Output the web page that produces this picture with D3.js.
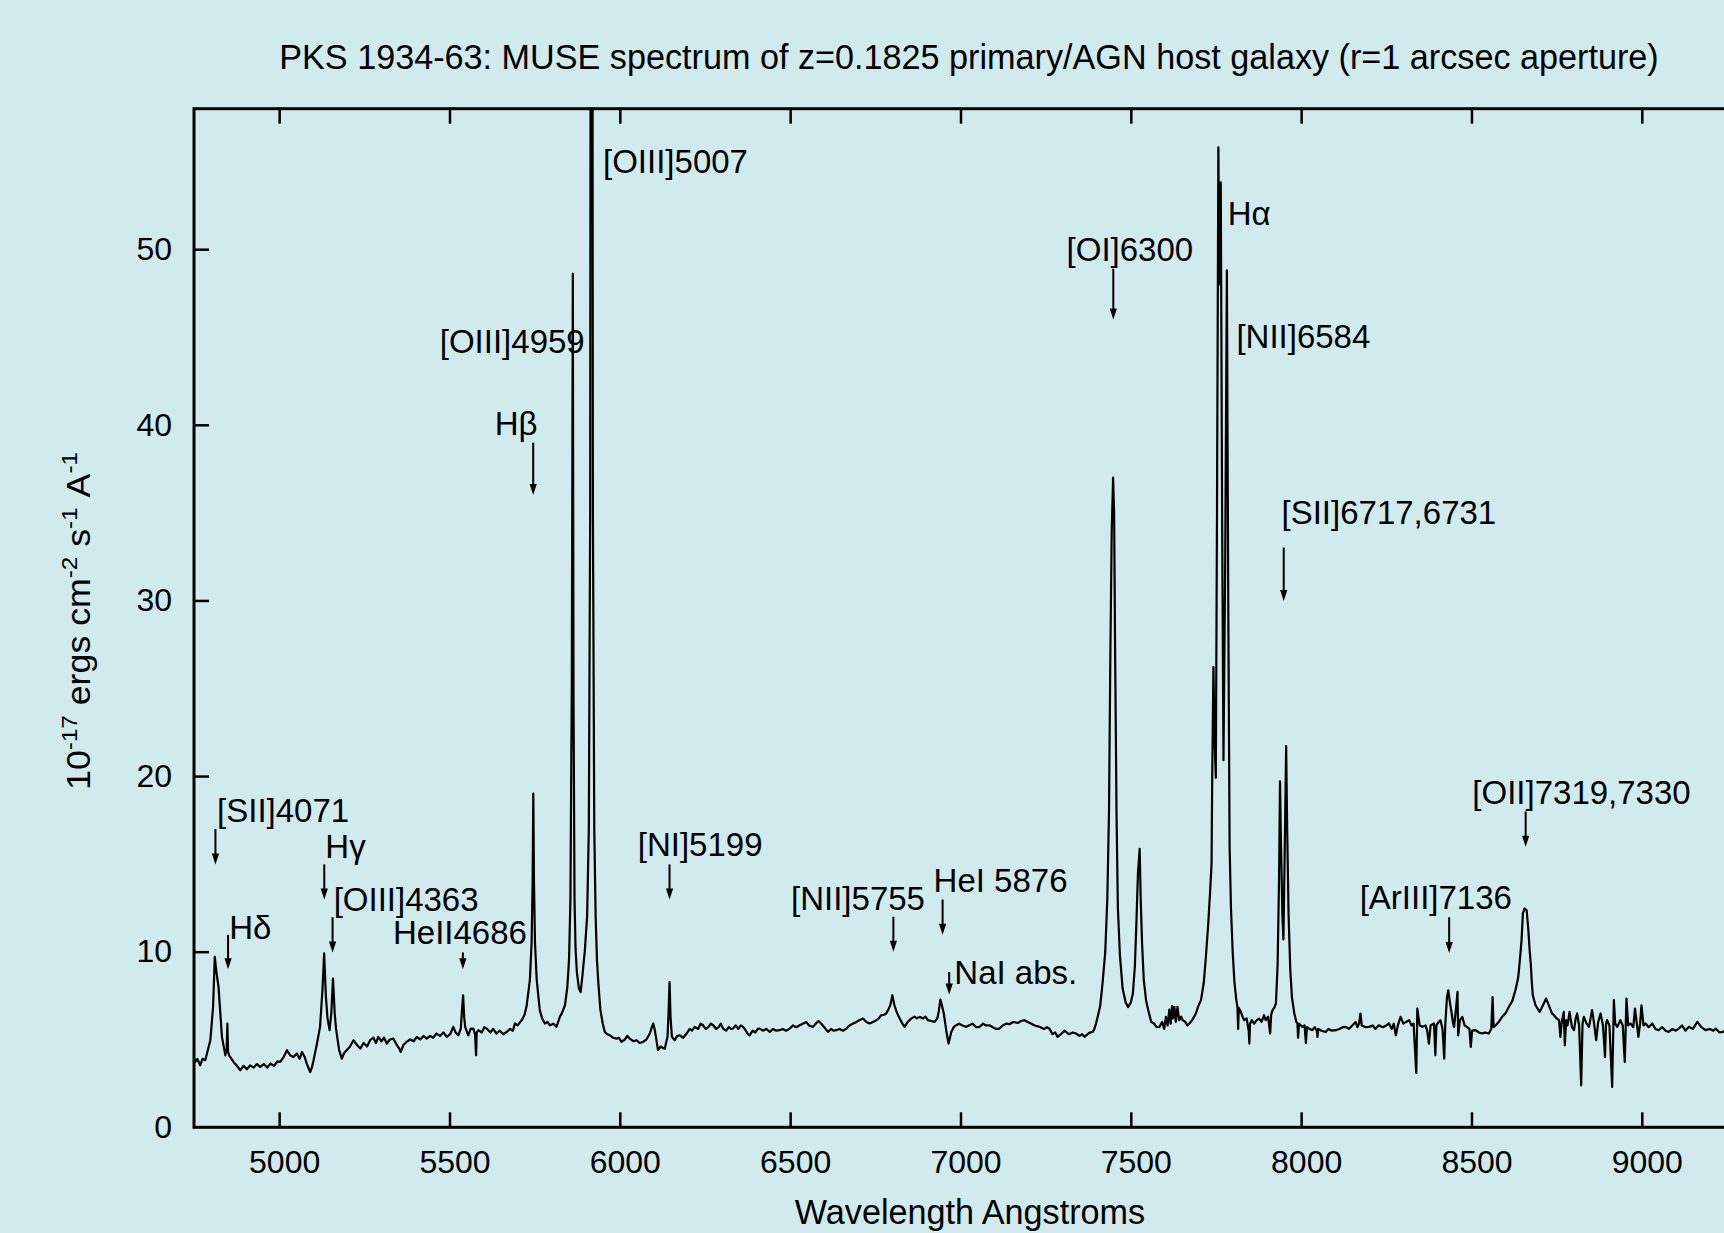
<!DOCTYPE html>
<html>
<head>
<meta charset="utf-8">
<script src="https://cdn.jsdelivr.net/npm/d3@7"></script>
<style>
  html, body { margin: 0; padding: 0; background: #d1eaee; overflow: hidden; }
  svg { display: block; }
  text { font-family: "Liberation Sans", Arial, Helvetica, sans-serif; fill: #000; }
</style>
</head>
<body>
<div id="chart"></div>
<script>
// ======= DATA =======

const wavelength = [
  4750,4754,4760,4768,4775,4783,4798,4806,4811,4816,
  4822,4832,4842,4846,4848,4850,4853,4866,4876,4886,
  4895,4905,4915,4925,4935,4944,4955,4965,4974,4985,
  4995,5003,5013,5023,5032,5042,5052,5060,5067,5075,
  5081,5091,5096,5101,5111,5120,5127,5132,5137,5142,
  5148,5153,5158,5163,5167,5176,5184,5190,5198,5208,
  5218,5228,5238,5248,5258,5267,5277,5284,5291,5300,
  5308,5316,5325,5335,5345,5352,5357,5365,5374,5385,
  5395,5404,5414,5424,5433,5443,5452,5462,5472,5482,
  5492,5502,5511,5518,5526,5533,5536,5540,5543,5546,
  5555,5562,5570,5575,5578,5580,5585,5595,5602,5609,
  5620,5628,5638,5648,5658,5668,5678,5686,5692,5700,
  5712,5720,5726,5736,5741,5744,5746,5748,5751,5756,
  5765,5772,5780,5788,5795,5805,5814,5824,5830,5839,
  5846,5851,5855,5859,5862,5864,5867,5870,5874,5880,
  5885,5890,5897,5904,5909,5913,5917,5921,5925,5929,
  5933,5937,5943,5950,5956,5963,5971,5980,5990,5997,
  6005,6015,6022,6029,6040,6049,6058,6068,6078,6088,
  6094,6098,6102,6106,6112,6120,6128,6132,6138,6140,
  6143,6146,6149,6153,6161,6168,6176,6186,6196,6205,
  6212,6220,6230,6237,6244,6252,6260,6267,6274,6283,
  6290,6296,6303,6312,6320,6326,6332,6340,6348,6355,
  6362,6370,6376,6381,6390,6398,6405,6411,6420,6430,
  6440,6450,6459,6469,6478,6488,6499,6508,6518,6528,
  6537,6547,6555,6567,6575,6583,6591,6600,6611,6620,
  6627,6635,6645,6655,6665,6674,6684,6694,6703,6714,
  6724,6733,6743,6753,6760,6767,6775,6782,6788,6794,
  6800,6806,6812,6819,6828,6836,6845,6855,6865,6872,
  6880,6890,6897,6904,6914,6924,6932,6936,6941,6946,
  6951,6958,6965,6969,6973,6980,6987,6996,7006,7017,
  7026,7036,7046,7056,7066,7075,7085,7095,7105,7114,
  7124,7134,7144,7155,7168,7178,7188,7197,7207,7218,
  7232,7245,7254,7261,7270,7278,7285,7295,7305,7310,
  7318,7330,7339,7350,7357,7364,7373,7380,7388,7393,
  7398,7404,7410,7417,7425,7431,7436,7440,7444,7448,
  7451,7454,7458,7462,7468,7476,7485,7492,7500,7506,
  7512,7517,7521,7526,7529,7533,7538,7545,7552,7560,
  7568,7576,7584,7592,7598,7603,7608,7613,7617,7621,
  7624,7628,7632,7637,7642,7648,7652,7660,7666,7672,
  7680,7686,7691,7698,7706,7714,7720,7727,7733,7737,
  7739,7742.5,7746,7749.5,7753,7757,7760,7764,7768,7772,
  7777,7782,7786,7790,7794,7799,7804,7810,7813,7815,
  7817,7823,7828,7833,7840,7846,7848,7850,7855,7862,
  7870,7877,7884,7891,7896,7903,7909,7912,7916,7921,
  7926,7931,7935,7938,7941,7945,7948,7952,7956,7959,
  7963,7968,7973,7980,7986,7989,7991,7994,8004,8010,
  8014,8017,8025,8033,8040,8046,8048,8050,8060,8072,
  8080,8090,8102,8112,8122,8131,8140,8150,8160,8165,
  8170,8174,8178,8190,8199,8210,8218,8228,8240,8250,
  8258,8266,8272,8278,8284,8292,8300,8308,8317,8324,
  8330,8338,8341,8348,8356,8365,8370,8375,8380,8390,
  8394,8397,8404,8409,8415,8420,8423,8428,8432,8436,
  8442,8446,8449,8455,8459,8461,8466,8473,8480,8487,
  8494,8498,8502,8512,8522,8531,8540,8551,8558,8562,
  8565,8571,8580,8590,8600,8610,8620,8629,8637,8642,
  8647,8651,8656,8662,8667,8671,8674,8677,8680,8688,
  8700,8710,8719,8729,8736,8742,8750,8757,8761,8765,
  8771,8774,8778,8782,8788,8795,8801,8806,8810,8816,
  8822,8826,8830,8838,8845,8854,8860,8866,8872,8879,
  8886,8892,8895,8898,8905,8913,8918,8922,8928,8937,
  8944,8950,8955,8960,8967,8975,8980,8986,8990,8995,
  8999,9005,9011,9020,9031,9040,9050,9060,9070,9079,
  9090,9100,9109,9118,9128,9138,9150,9163,9175,9187,
  9200,9210,9217,9228,9238,9250,9262,9275,9288,9300
];

const flux = [
  3.9,3.72,3.9,3.53,3.9,3.82,4.96,6.86,9.7,8.8,
  8.0,5.15,4.1,4.5,5.9,4.3,4.1,3.72,3.5,3.25,
  3.5,3.3,3.53,3.4,3.6,3.44,3.6,3.4,3.63,3.5,
  3.75,3.72,4.0,4.39,4.1,4.0,4.2,3.9,4.29,4.0,
  3.63,3.15,3.4,3.82,4.77,5.72,7.8,9.9,7.5,6.2,
  5.53,6.48,8.47,6.5,5.6,4.39,3.91,4.2,4.39,4.6,
  4.96,4.7,4.48,4.8,4.6,4.96,5.1,4.8,5.15,4.9,
  5.1,4.77,5.0,5.05,4.7,4.5,4.29,4.7,4.86,5.0,
  4.9,5.15,5.0,5.2,5.05,5.2,5.1,5.34,5.2,5.4,
  5.15,5.3,5.72,5.4,5.24,5.6,6.48,7.52,6.3,5.72,
  5.24,5.6,5.62,5.3,4.1,5.4,5.53,5.4,5.7,5.62,
  5.4,5.6,5.34,5.5,5.3,5.43,5.6,5.5,5.91,5.8,
  6.1,6.4,6.86,8.4,10.5,14,19.0,14,10.5,8.4,
  6.67,6.2,5.91,6.0,5.81,5.9,5.72,6.29,6.5,6.95,
  8.0,9.6,13,25,48.6,25,13,10.2,8.8,7.9,
  7.7,8.6,10,12,17,35,130,35,17,12,
  9.5,8.2,6.67,5.9,5.43,5.3,5.24,5.1,5.05,5.1,
  4.86,5.0,5.2,5.05,4.9,4.96,4.8,4.86,5.0,5.34,
  5.7,5.91,5.6,5.15,4.39,4.6,4.5,4.48,5.0,5.15,
  6.5,8.27,6.2,5.15,4.96,5.2,5.24,5.1,5.34,5.6,
  5.5,5.72,5.6,5.9,5.81,5.6,5.7,5.9,5.81,5.6,
  5.7,5.9,5.62,5.5,5.7,5.6,5.62,5.8,5.6,5.8,
  5.72,5.5,5.3,5.24,5.5,5.4,5.6,5.62,5.5,5.6,
  5.43,5.6,5.5,5.53,5.6,5.5,5.62,5.8,5.7,5.81,
  5.9,6.0,5.8,5.72,5.9,6.05,5.91,5.7,5.43,5.6,
  5.5,5.53,5.6,5.5,5.62,5.8,5.9,6.0,6.1,6.19,
  6.0,5.91,6.0,6.1,6.2,6.38,6.4,6.48,6.7,6.95,
  7.52,6.95,6.6,6.29,5.95,5.72,6.0,6.19,6.3,6.2,
  6.29,6.2,6.3,6.1,6.05,6.0,6.2,6.57,7.27,6.9,
  6.48,5.53,4.77,5.1,5.43,5.7,5.81,5.9,5.8,5.72,
  5.81,5.9,5.7,5.72,5.9,5.8,5.81,5.7,5.6,5.62,
  5.8,5.9,5.87,6.0,5.94,6.05,6.1,6.0,5.91,5.8,
  5.72,5.6,5.7,5.62,5.3,5.4,5.15,5.3,5.5,5.43,
  5.3,5.4,5.34,5.2,5.3,5.15,5.3,5.4,5.43,5.6,
  5.91,6.4,6.9,8.2,10.0,13,18,27,34,37.0,
  35,27,18,12.5,9.8,7.9,7.1,6.85,7.1,7.6,
  9.2,12,14.5,15.85,13,10.5,8.4,7.2,6.6,6.0,
  5.91,5.7,5.72,6.0,5.6,6.29,5.8,6.7,5.9,6.9,
  6.2,6.86,6.0,6.86,6.1,6.3,6.1,6.0,5.8,5.91,
  6.1,6.3,6.48,6.9,7.24,8.2,9.6,11.5,13.5,15,
  20,26.2,22,19.9,35,55.8,48,53.8,35,20.9,
  32,48.8,30,16,12.5,10,8.3,7.2,6.86,5.6,
  6.8,6.57,6.3,6.1,6.2,5.5,4.77,5.9,6.1,5.9,
  6.1,6.19,6.0,6.38,6.1,6.3,5.34,6.4,6.67,6.8,
  7.05,9.3,14,19.7,16,12,10.7,16,21.7,17,
  12.2,9,7.4,6.48,6.0,5.91,5.1,5.9,5.72,5.8,
  4.8,5.7,5.6,5.53,5.7,5.5,5.15,5.6,5.5,5.43,
  5.6,5.5,5.53,5.6,5.7,5.72,5.6,5.8,6.0,5.7,
  5.91,6.48,5.8,5.7,5.72,5.8,5.6,5.81,5.7,5.8,
  5.91,5.6,5.9,5.24,5.8,6.29,5.9,6.0,6.1,5.8,
  5.9,3.1,6.76,5.8,5.72,5.8,5.5,4.77,5.8,5.91,
  4.1,5.8,6.0,6.1,5.6,3.91,5.8,7.4,7.8,7.2,
  6.48,5.9,5.72,6.86,7.71,5.24,6.1,6.29,5.8,5.72,
  5.6,4.58,5.5,5.53,5.4,5.34,5.4,5.34,5.6,7.42,
  5.7,5.81,6.0,6.29,6.5,6.86,7.2,7.8,8.5,9.5,
  10.66,12.2,12.46,12.36,11.22,10,9.33,8.3,7.52,6.95,
  6.57,6.95,7.33,6.86,6.5,6.38,6.2,6.1,5.15,6.0,
  6.57,4.67,6.1,5.8,6.57,5.7,5.53,6.2,6.48,5.8,
  2.39,5.9,6.29,5.9,5.72,6.67,5.9,4.96,6.0,6.48,
  5.8,4.0,5.9,6.1,5.8,2.3,7.24,5.9,5.72,6.1,
  5.8,3.72,7.33,5.8,5.91,5.7,6.76,5.8,5.15,5.9,
  6.95,5.8,5.91,5.7,5.91,5.6,5.53,5.7,5.5,5.43,
  5.6,5.5,5.62,5.8,5.5,5.72,5.6,6.0,5.7,5.53,
  5.6,5.5,5.62,5.4,5.43,5.6,5.5,5.4,5.6,5.5
];

const xTicks = [5000, 5500, 6000, 6500, 7000, 7500, 8000, 8500, 9000];
const yTicks = [0, 10, 20, 30, 40, 50];

// line labels: text start (A), text baseline (flux), arrow position (A), arrow top / tip (flux)
const annText   = ["[SII]4071", "H\u03b4", "H\u03b3", "[OIII]4363", "HeII4686", "H\u03b2", "[OIII]4959", "[OIII]5007",
                   "[NI]5199", "[NII]5755", "HeI 5876", "NaI abs.", "[OI]6300", "H\u03b1", "[NII]6584",
                   "[SII]6717,6731", "[ArIII]7136", "[OII]7319,7330"];
const annTextX  = [4817.7, 4853.2, 5135.6, 5160, 5334.1, 5632.7, 5471.5, 5950.7,
                   6052.6, 6502.6, 6921, 6982, 7311.5, 7784.5, 7810,
                   7942.4, 8171.7, 8502.6];
const annTextY  = [17.36, 10.74, 15.35, 12.3, 10.41, 39.42, 44.1, 54.36,
                   15.42, 12.37, 13.42, 8.18, 49.33, 51.36, 44.38,
                   34.36, 12.41, 18.42];
const annArrowX = [4813, 4850, 5132.4, 5156.8, 5539.3, 5745.7, null, null,
                   6145.9, 6803, 6947.5, 6966.8, 7448.6, null, null,
                   7948.9, 8434.5, 8659.1];
const annArrowTop = [16.98, 10.96, 14.97, 11.96, 9.96, 38.98, null, null,
                     14.97, 11.99, 12.97, 8.84, 48.88, null, null,
                     33.01, 11.96, 17.98];
const annArrowTip = [14.97, 9.0, 12.97, 9.96, 9.0, 36.0, null, null,
                     12.97, 10.0, 10.96, 7.56, 46.0, null, null,
                     29.97, 9.92, 15.97];

const titleText = "PKS 1934-63: MUSE spectrum of z=0.1825 primary/AGN host galaxy (r=1 arcsec aperture)";
const xLabel = "Wavelength Angstroms";

// ======= SVG SETUP =======

const width = 1724;
const height = 1233;
const plotLeft = 194, plotRight = 1744, plotTop = 108.7, plotBottom = 1127.3;

const svg = d3.select("#chart")
  .append("svg")
  .attr("width", width)
  .attr("height", height);

svg.append("rect")
  .attr("width", width)
  .attr("height", height)
  .attr("fill", "#d1eaee");

const x = d3.scaleLinear().domain([4750, 9300]).range([plotLeft, plotRight]);
const y = d3.scaleLinear().domain([0, 58]).range([plotBottom, plotTop]);

svg.append("clipPath").attr("id", "plot-clip")
  .append("rect")
  .attr("x", plotLeft).attr("y", plotTop)
  .attr("width", plotRight - plotLeft).attr("height", plotBottom - plotTop);

// ------- SPECTRUM -------
const points = wavelength.map((w, i) => [w, flux[i]]);

svg.append("path")
  .datum(points)
  .attr("clip-path", "url(#plot-clip)")
  .attr("fill", "none")
  .attr("stroke", "#000")
  .attr("stroke-width", 2.2)
  .attr("stroke-linejoin", "round")
  .attr("d", d3.line().x(d => x(d[0])).y(d => y(d[1])));

// ------- AXES (ticks point inward, mirrored on top) -------
const bottomAxis = svg.append("g")
  .attr("transform", `translate(0,${plotBottom})`)
  .call(d3.axisBottom(x).tickValues(xTicks).tickSize(-15).tickPadding(23).tickFormat(d3.format("d")));

const topAxis = svg.append("g")
  .attr("transform", `translate(0,${plotTop})`)
  .call(d3.axisTop(x).tickValues(xTicks).tickSize(-15).tickFormat(""));

const leftAxis = svg.append("g")
  .attr("transform", `translate(${plotLeft},0)`)
  .call(d3.axisLeft(y).tickValues(yTicks).tickSize(-15).tickPadding(22));

[bottomAxis, topAxis, leftAxis].forEach(a => {
  a.select(".domain").remove();
  a.selectAll(".tick line").attr("stroke", "#000").attr("stroke-width", 2.5);
  a.selectAll(".tick text")
    .attr("font-family", "Liberation Sans, Arial, sans-serif")
    .attr("font-size", 32)
    .attr("fill", "#000");
});
bottomAxis.selectAll(".tick text").attr("dx", 5);
// the 0 tick sits on the corner
leftAxis.selectAll(".tick").filter(d => d === 0).select("line").remove();

// frame
svg.append("rect")
  .attr("x", plotLeft).attr("y", plotTop)
  .attr("width", plotRight - plotLeft).attr("height", plotBottom - plotTop)
  .attr("fill", "none")
  .attr("stroke", "#000")
  .attr("stroke-width", 3);

// ------- LINE LABELS + ARROWS -------
const ann = svg.append("g").attr("class", "annotations");

annText.forEach((t, i) => {
  ann.append("text")
    .attr("x", x(annTextX[i]))
    .attr("y", y(annTextY[i]))
    .attr("font-size", 33)
    .text(t);

  if (annArrowX[i] === null) return;
  const ax = x(annArrowX[i]);
  const y0 = y(annArrowTop[i]);
  const y1 = y(annArrowTip[i]);
  const head = 11, half = 3.6;
  ann.append("line")
    .attr("x1", ax).attr("x2", ax)
    .attr("y1", y0).attr("y2", y1 - head + 2)
    .attr("stroke", "#000")
    .attr("stroke-width", 2);
  ann.append("path")
    .attr("d", `M${ax - half},${y1 - head}L${ax},${y1}L${ax + half},${y1 - head}Z`)
    .attr("fill", "#000");
});

// ------- TITLE AND AXIS LABELS -------
svg.append("text")
  .attr("x", (plotLeft + plotRight) / 2)
  .attr("y", 69)
  .attr("text-anchor", "middle")
  .attr("font-size", 34.2)
  .text(titleText);

svg.append("text")
  .attr("x", (plotLeft + plotRight) / 2 + 1)
  .attr("y", 1224)
  .attr("text-anchor", "middle")
  .attr("font-size", 34.2)
  .text(xLabel);

// rotated y label, a little stretched along the baseline like the original font
const yLab = svg.append("text")
  .attr("transform", "translate(90,621) rotate(-90) scale(1.1,1)")
  .attr("text-anchor", "middle")
  .attr("font-size", 32.5);

const yParts = [["10", false], ["-17", true], ["ergs\u00a0cm", false], ["-2", true],
                ["s", false], ["-1", true], ["A", false], ["-1", true]];
yParts.forEach(([s, sup], i) => {
  const prevSup = i > 0 && yParts[i - 1][1];
  yLab.append("tspan")
    .attr("font-size", sup ? 22 : 32.5)
    .attr("dx", prevSup ? 9 : 0)
    .attr("dy", sup ? -13 : (prevSup ? 13 : 0))
    .text(s);
});
</script>
</body>
</html>
